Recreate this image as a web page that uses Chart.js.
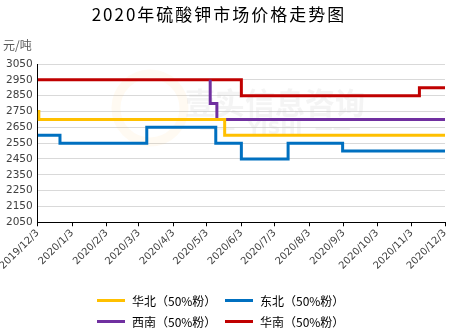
<!DOCTYPE html>
<html>
<head>
<meta charset="utf-8">
<script src="https://cdn.jsdelivr.net/npm/chart.js@4.4.1/dist/chart.umd.min.js"></script>
<style>
  html, body { margin: 0; padding: 0; background: #fff; }
  .wrap { position: relative; width: 459px; height: 335px; }
  .title { position: absolute; left: 0; width: 438px; top: 1px; text-align: center;
           font: 17px "Noto Sans CJK SC", sans-serif; letter-spacing: 2px; color: #000; }
  .unit { position: absolute; left: 3px; top: 36px; font: 12px "Noto Sans CJK SC", sans-serif; color: #595959; }
  .legend { position: absolute; left: 97px; top: 291px; display: grid;
            grid-template-columns: 128px 128px; row-gap: 2px; }
  .legend div { display: flex; align-items: center; height: 19px;
                font: 12px "Noto Sans CJK SC", sans-serif; color: #000; }
  .legend span.ln { display: inline-block; width: 28px; height: 3px; margin-right: 7px; }
</style>
</head>
<body>
<div class="wrap">
  <canvas id="myChart" width="459" height="335"></canvas>
  <div class="title">2020年硫酸钾市场价格走势图</div>
  <div class="unit">元/吨</div>
  <div class="legend" id="legend"></div>
</div>
<script>
// month ticks on the x axis
const tickLabels = ['2019/12/3', '2020/1/3', '2020/2/3', '2020/3/3', '2020/4/3', '2020/5/3', '2020/6/3',
                    '2020/7/3', '2020/8/3', '2020/9/3', '2020/10/3', '2020/11/3', '2020/12/3'];

// price change points (date from which the price holds)
const huabeiDates = ['2019/12/3', '2019/12/4', '2020/5/19', '2020/12/3'];
const huabeiPrices = [2750, 2700, 2600, 2600];

const dongbeiDates = ['2019/12/3', '2019/12/23', '2020/3/10', '2020/5/11', '2020/6/3', '2020/7/15', '2020/9/2', '2020/12/3'];
const dongbeiPrices = [2600, 2550, 2650, 2550, 2450, 2550, 2500, 2500];

const xinanDates = ['2020/5/6', '2020/5/6', '2020/5/12', '2020/12/3'];
const xinanPrices = [2950, 2800, 2700, 2700];

const huananDates = ['2019/12/3', '2020/6/3', '2020/11/10', '2020/12/3'];
const huananPrices = [2950, 2850, 2900, 2900];

const seriesNames = ['华北（50%粉）', '东北（50%粉）', '西南（50%粉）', '华南（50%粉）'];
const seriesColors = ['#FFC000', '#0070C0', '#7030A0', '#C00000'];

const yTicks = [2050, 2150, 2250, 2350, 2450, 2550, 2650, 2750, 2850, 2950, 3050];

// days since 2019/12/3
function dayOf(s) {
    const p = s.split('/').map(Number);
    return (Date.UTC(p[0], p[1] - 1, p[2]) - Date.UTC(2019, 11, 3)) / 86400000;
}
function toPoints(dates, prices) {
    return dates.map((d, i) => ({ x: dayOf(d), y: prices[i] }));
}
const tickDays = tickLabels.map(dayOf);

const allSeries = [
    toPoints(huabeiDates, huabeiPrices),
    toPoints(dongbeiDates, dongbeiPrices),
    toPoints(xinanDates, xinanPrices),
    toPoints(huananDates, huananPrices)
];

const watermark = {
    id: 'watermark',
    beforeDatasetsDraw(chart) {
        const { ctx } = chart;
        ctx.save();
        ctx.strokeStyle = 'rgba(250, 190, 90, 0.08)';
        ctx.lineWidth = 9;
        ctx.beginPath();
        ctx.arc(150, 108, 34, 0, Math.PI * 2);
        ctx.stroke();
        ctx.fillStyle = 'rgba(200, 200, 200, 0.2)';
        ctx.textAlign = 'center';
        ctx.textBaseline = 'middle';
        ctx.font = 'bold 30px "Noto Sans CJK SC"';
        ctx.fillText('壹实信息咨询', 275, 103);
        ctx.font = 'bold 18px "DejaVu Sans"';
        ctx.fillText('——  YISHI  ——', 275, 129);
        ctx.restore();
    }
};

const config = {
    type: 'line',
    data: {
        datasets: allSeries.map((pts, i) => ({
            label: seriesNames[i],
            data: pts,
            borderColor: seriesColors[i],
            backgroundColor: seriesColors[i],
            borderWidth: 3,
            pointRadius: 0,
            stepped: true,
            fill: false
        }))
    },
    options: {
        responsive: false,
        animation: false,
        layout: { padding: { left: 1, right: 14, top: 64, bottom: 62 } },
        plugins: {
            legend: { display: false },
            tooltip: { enabled: false },
            title: { display: false }
        },
        scales: {
            x: {
                type: 'linear',
                min: 0,
                max: 366,
                afterBuildTicks: (axis) => { axis.ticks = tickDays.map(v => ({ value: v })); },
                ticks: {
                    autoSkip: false,
                    maxRotation: 45,
                    minRotation: 45,
                    padding: 1,
                    color: '#404040',
                    font: { family: 'DejaVu Sans', size: 10 },
                    callback: (v) => tickLabels[tickDays.indexOf(v)]
                },
                grid: { drawOnChartArea: false, drawTicks: true, tickLength: 4, color: '#000' },
                border: { color: '#000', width: 1 }
            },
            y: {
                min: 2050,
                max: 3050,
                afterBuildTicks: (axis) => { axis.ticks = yTicks.map(v => ({ value: v })); },
                ticks: {
                    padding: 5,
                    color: '#404040',
                    font: { family: 'DejaVu Sans', size: 10.5 },
                    callback: (v) => String(v)
                },
                grid: { color: '#d9d9d9', drawTicks: false },
                border: { color: '#000', width: 1 }
            }
        }
    },
    plugins: [watermark]
};

const chart = new Chart(document.getElementById('myChart').getContext('2d'), config);

// legend in 2 x 2 layout
const legendBox = document.getElementById('legend');
seriesNames.forEach((name, i) => {
    const item = document.createElement('div');
    const ln = document.createElement('span');
    ln.className = 'ln';
    ln.style.background = seriesColors[i];
    item.appendChild(ln);
    item.appendChild(document.createTextNode(name));
    legendBox.appendChild(item);
});
</script>
</body>
</html>
